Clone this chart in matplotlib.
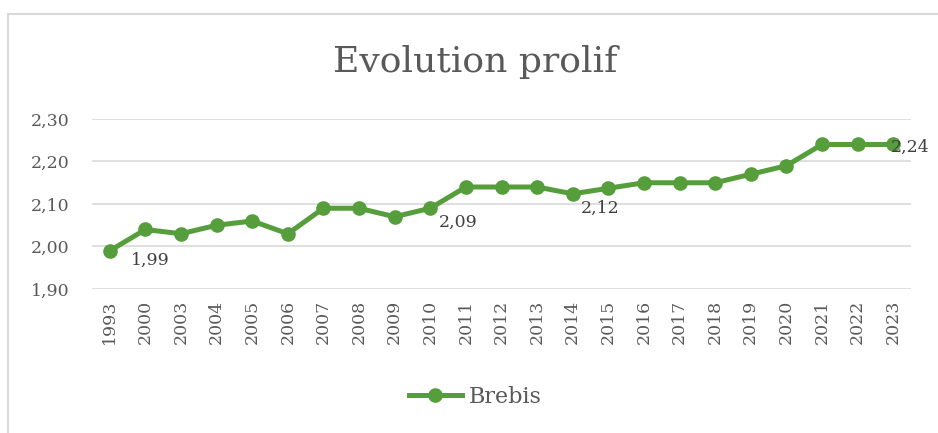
import matplotlib
matplotlib.use("Agg")
import matplotlib.pyplot as plt
from matplotlib.patches import Rectangle
from matplotlib.ticker import FuncFormatter

years = ["1993", "2000", "2003", "2004", "2005", "2006", "2007", "2008", "2009", "2010", "2011",
         "2012", "2013", "2014", "2015", "2016", "2017", "2018", "2019", "2020", "2021", "2022", "2023"]
brebis = [1.99, 2.04, 2.03, 2.05, 2.06, 2.03, 2.09, 2.09, 2.07, 2.09, 2.14,
          2.14, 2.14, 2.124, 2.137, 2.15, 2.15, 2.15, 2.17, 2.19, 2.24, 2.24, 2.24]
labelled = {"1993": "1,99", "2010": "2,09", "2014": "2,12", "2023": "2,24"}
yticks = [1.90, 2.00, 2.10, 2.20, 2.30]

plt.rcParams['font.family'] = ['DejaVu Serif']
W, H = 938, 433
fig = plt.figure(figsize=(W / 100, H / 100), dpi=100)
fig.patch.set_facecolor('white')

# outer chart border
fig.add_artist(Rectangle((8 / W, -0.05), 1.2, (H - 14) / H + 0.05, transform=fig.transFigure,
                         fill=False, edgecolor='#d9d9d9', linewidth=1.5))

left, right, top, bottom = 92, 911, 119, 289
ax = fig.add_axes([left / W, 1 - bottom / H, (right - left) / W, (bottom - top) / H])
x = list(range(len(years)))
green = '#559e3b'
ax.plot(x, brebis, color=green, linewidth=3.6, marker='o', markersize=9.5, label='Brebis', clip_on=False, zorder=3)
ax.set_xlim(-0.5, len(years) - 0.5)
ax.set_ylim(1.90, 2.30)
ax.set_yticks(yticks)
ax.yaxis.set_major_formatter(FuncFormatter(lambda v, p: f"{v:.2f}".replace('.', ',')))
ax.set_xticks(x)
ax.set_xticklabels(years, rotation=90)
ax.grid(axis='y', color='#d9d9d9', linewidth=1.2)
ax.set_axisbelow(True)
for s in ax.spines.values():
    s.set_visible(False)
ax.tick_params(axis='both', length=0, colors='#595959', labelsize=12.5)
ax.tick_params(axis='y', pad=16)
ax.tick_params(axis='x', pad=8)

offsets = {"1993": (15, -1, 'top'), "2010": (6, -4, 'top'), "2014": (6, -4, 'top'), "2023": (-2, -2, 'center')}
for i, y in enumerate(years):
    if y in labelled:
        dx, dy, va = offsets[y]
        ax.annotate(labelled[y], (i, brebis[i]), xytext=(dx, dy), textcoords='offset points',
                    ha='left', va=va, fontsize=12.5, color='#404040')

fig.text(475 / W, 1 - 62 / H, 'Evolution prolif', ha='center', va='center', fontsize=26, color='#595959')
fig.legend(loc='center', bbox_to_anchor=(475 / W, 1 - 397 / H), frameon=False, fontsize=16,
           labelcolor='#595959', handlelength=2.4, handletextpad=0.3)

fig.savefig('out.png', dpi=100)
